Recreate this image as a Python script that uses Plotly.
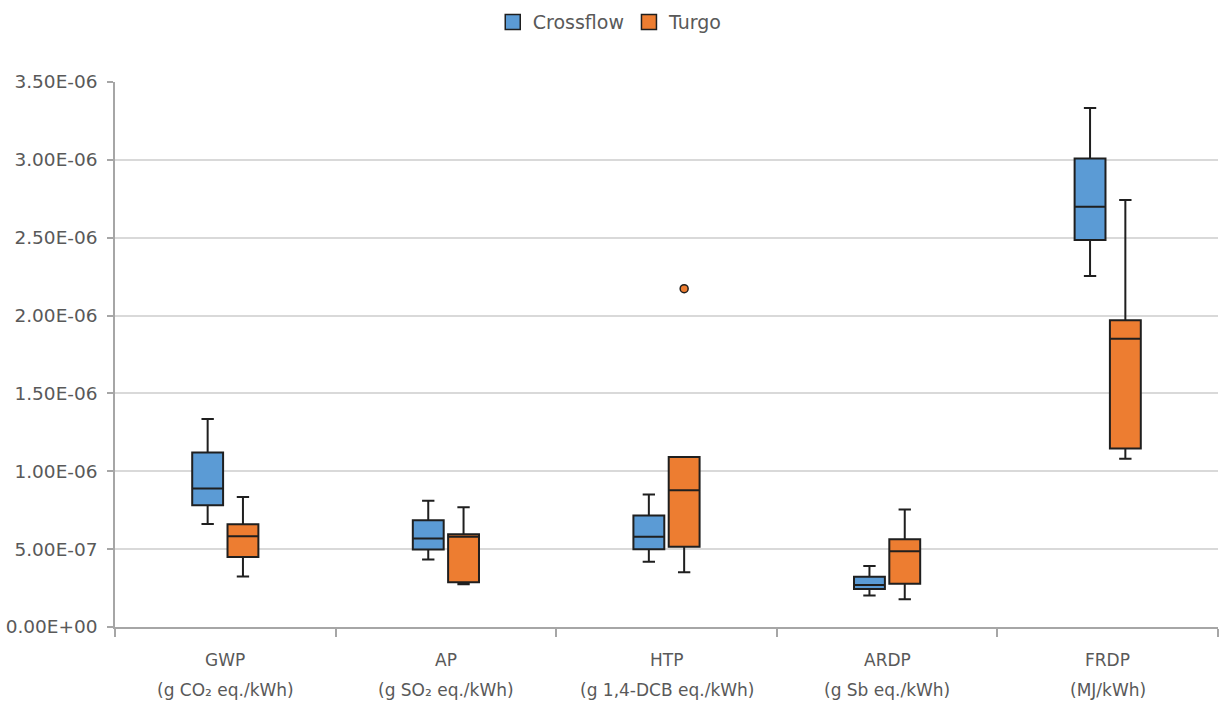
import plotly.graph_objects as go

# Impact categories: indicator name and its unit
category_names = ["GWP", "AP", "HTP", "ARDP", "FRDP"]
category_units = [
    "(g CO₂ eq./kWh)",
    "(g SO₂ eq./kWh)",
    "(g 1,4-DCB eq./kWh)",
    "(g Sb eq./kWh)",
    "(MJ/kWh)",
]

# Box statistics per category
crossflow_min = [0.662e-6, 0.434e-6, 0.419e-6, 0.203e-6, 2.254e-6]
crossflow_q1 = [0.782e-6, 0.498e-6, 0.500e-6, 0.244e-6, 2.485e-6]
crossflow_median = [0.889e-6, 0.569e-6, 0.579e-6, 0.269e-6, 2.699e-6]
crossflow_q3 = [1.120e-6, 0.686e-6, 0.716e-6, 0.323e-6, 3.008e-6]
crossflow_max = [1.335e-6, 0.810e-6, 0.851e-6, 0.391e-6, 3.333e-6]

turgo_min = [0.325e-6, 0.274e-6, 0.351e-6, 0.178e-6, 1.081e-6]
turgo_q1 = [0.449e-6, 0.287e-6, 0.515e-6, 0.278e-6, 1.147e-6]
turgo_median = [0.583e-6, 0.579e-6, 0.878e-6, 0.487e-6, 1.851e-6]
turgo_q3 = [0.660e-6, 0.596e-6, 1.092e-6, 0.564e-6, 1.970e-6]
turgo_max = [0.835e-6, 0.769e-6, 1.092e-6, 0.754e-6, 2.742e-6]

# Outlier points (category index, value)
turgo_outlier_cat = [2]
turgo_outlier_val = [2.173e-6]

y_ticks = [0, 0.5e-6, 1.0e-6, 1.5e-6, 2.0e-6, 2.5e-6, 3.0e-6, 3.5e-6]

BLUE = "#5b9bd5"
ORANGE = "#ed7d31"
EDGE = "#1f1f1f"
TEXT = "#595959"
GRID = "#d9d9d9"
AXIS = "#a6a6a6"
FONT = "DejaVu Sans"

offset = 0.08
box_w = 0.14
pos = list(range(len(category_names)))

fig = go.Figure()

fig.add_trace(go.Box(
    name="Crossflow",
    x=[p - offset for p in pos],
    q1=crossflow_q1, median=crossflow_median, q3=crossflow_q3,
    lowerfence=crossflow_min, upperfence=crossflow_max,
    width=box_w, whiskerwidth=0.4,
    fillcolor=BLUE, line=dict(color=EDGE, width=2),
    boxpoints=False, showlegend=False,
))
fig.add_trace(go.Box(
    name="Turgo",
    x=[p + offset for p in pos],
    q1=turgo_q1, median=turgo_median, q3=turgo_q3,
    lowerfence=turgo_min, upperfence=turgo_max,
    width=box_w, whiskerwidth=0.4,
    fillcolor=ORANGE, line=dict(color=EDGE, width=2),
    boxpoints=False, showlegend=False,
))
fig.add_trace(go.Scatter(
    x=[c + offset for c in turgo_outlier_cat],
    y=turgo_outlier_val,
    mode="markers",
    marker=dict(color=ORANGE, size=8, line=dict(color=EDGE, width=1.5)),
    showlegend=False,
    hoverinfo="y",
))

# Legend entries with larger square swatches
for name, color in (("Crossflow", BLUE), ("Turgo", ORANGE)):
    fig.add_trace(go.Scatter(
        x=[None], y=[None], mode="markers", name=name,
        marker=dict(symbol="square", size=15, color=color,
                    line=dict(color=EDGE, width=1.5)),
    ))

boundaries = [p - 0.5 for p in pos] + [pos[-1] + 0.5]

# Two-line category labels under the axis
label_font = dict(family=FONT, size=17, color=TEXT)
annotations = []
for p, name, unit in zip(pos, category_names, category_units):
    annotations.append(dict(x=p, xref="x", y=0, yref="paper", text=name,
                            showarrow=False, yanchor="middle", yshift=-33,
                            font=label_font))
    annotations.append(dict(x=p, xref="x", y=0, yref="paper", text=unit,
                            showarrow=False, yanchor="middle", yshift=-63,
                            font=label_font))

fig.update_layout(
    width=1219, height=704,
    margin=dict(l=115, r=1, t=82, b=77),
    paper_bgcolor="white", plot_bgcolor="white",
    font=dict(family=FONT, size=17, color=TEXT),
    legend=dict(
        orientation="h", x=0.449, xanchor="center", y=1.11, yanchor="middle",
        font=dict(family=FONT, size=19, color=TEXT),
        itemwidth=30, traceorder="normal",
    ),
    showlegend=True,
    annotations=annotations,
)

fig.update_xaxes(
    range=[-0.5, len(category_names) - 0.5],
    tickvals=pos, ticktext=["" for _ in pos], ticks="",
    showgrid=False, zeroline=False,
    showline=True, linecolor=AXIS, linewidth=1.5,
    minor=dict(tickvals=boundaries, ticks="outside", ticklen=8,
               tickcolor=AXIS, tickwidth=1.5, showgrid=False),
)

fig.update_yaxes(
    range=[0, 3.5e-6],
    tickvals=y_ticks, ticktext=[f"{v:.2E}" for v in y_ticks],
    ticks="outside", ticklen=6, tickcolor=AXIS, tickwidth=1.5,
    showgrid=True, gridcolor=GRID, gridwidth=1.5,
    zeroline=False,
    showline=True, linecolor=AXIS, linewidth=1.5,
    tickfont=dict(family=FONT, size=18.5, color=TEXT),
    ticklabelstandoff=6,
)

fig.write_html("out.html")
